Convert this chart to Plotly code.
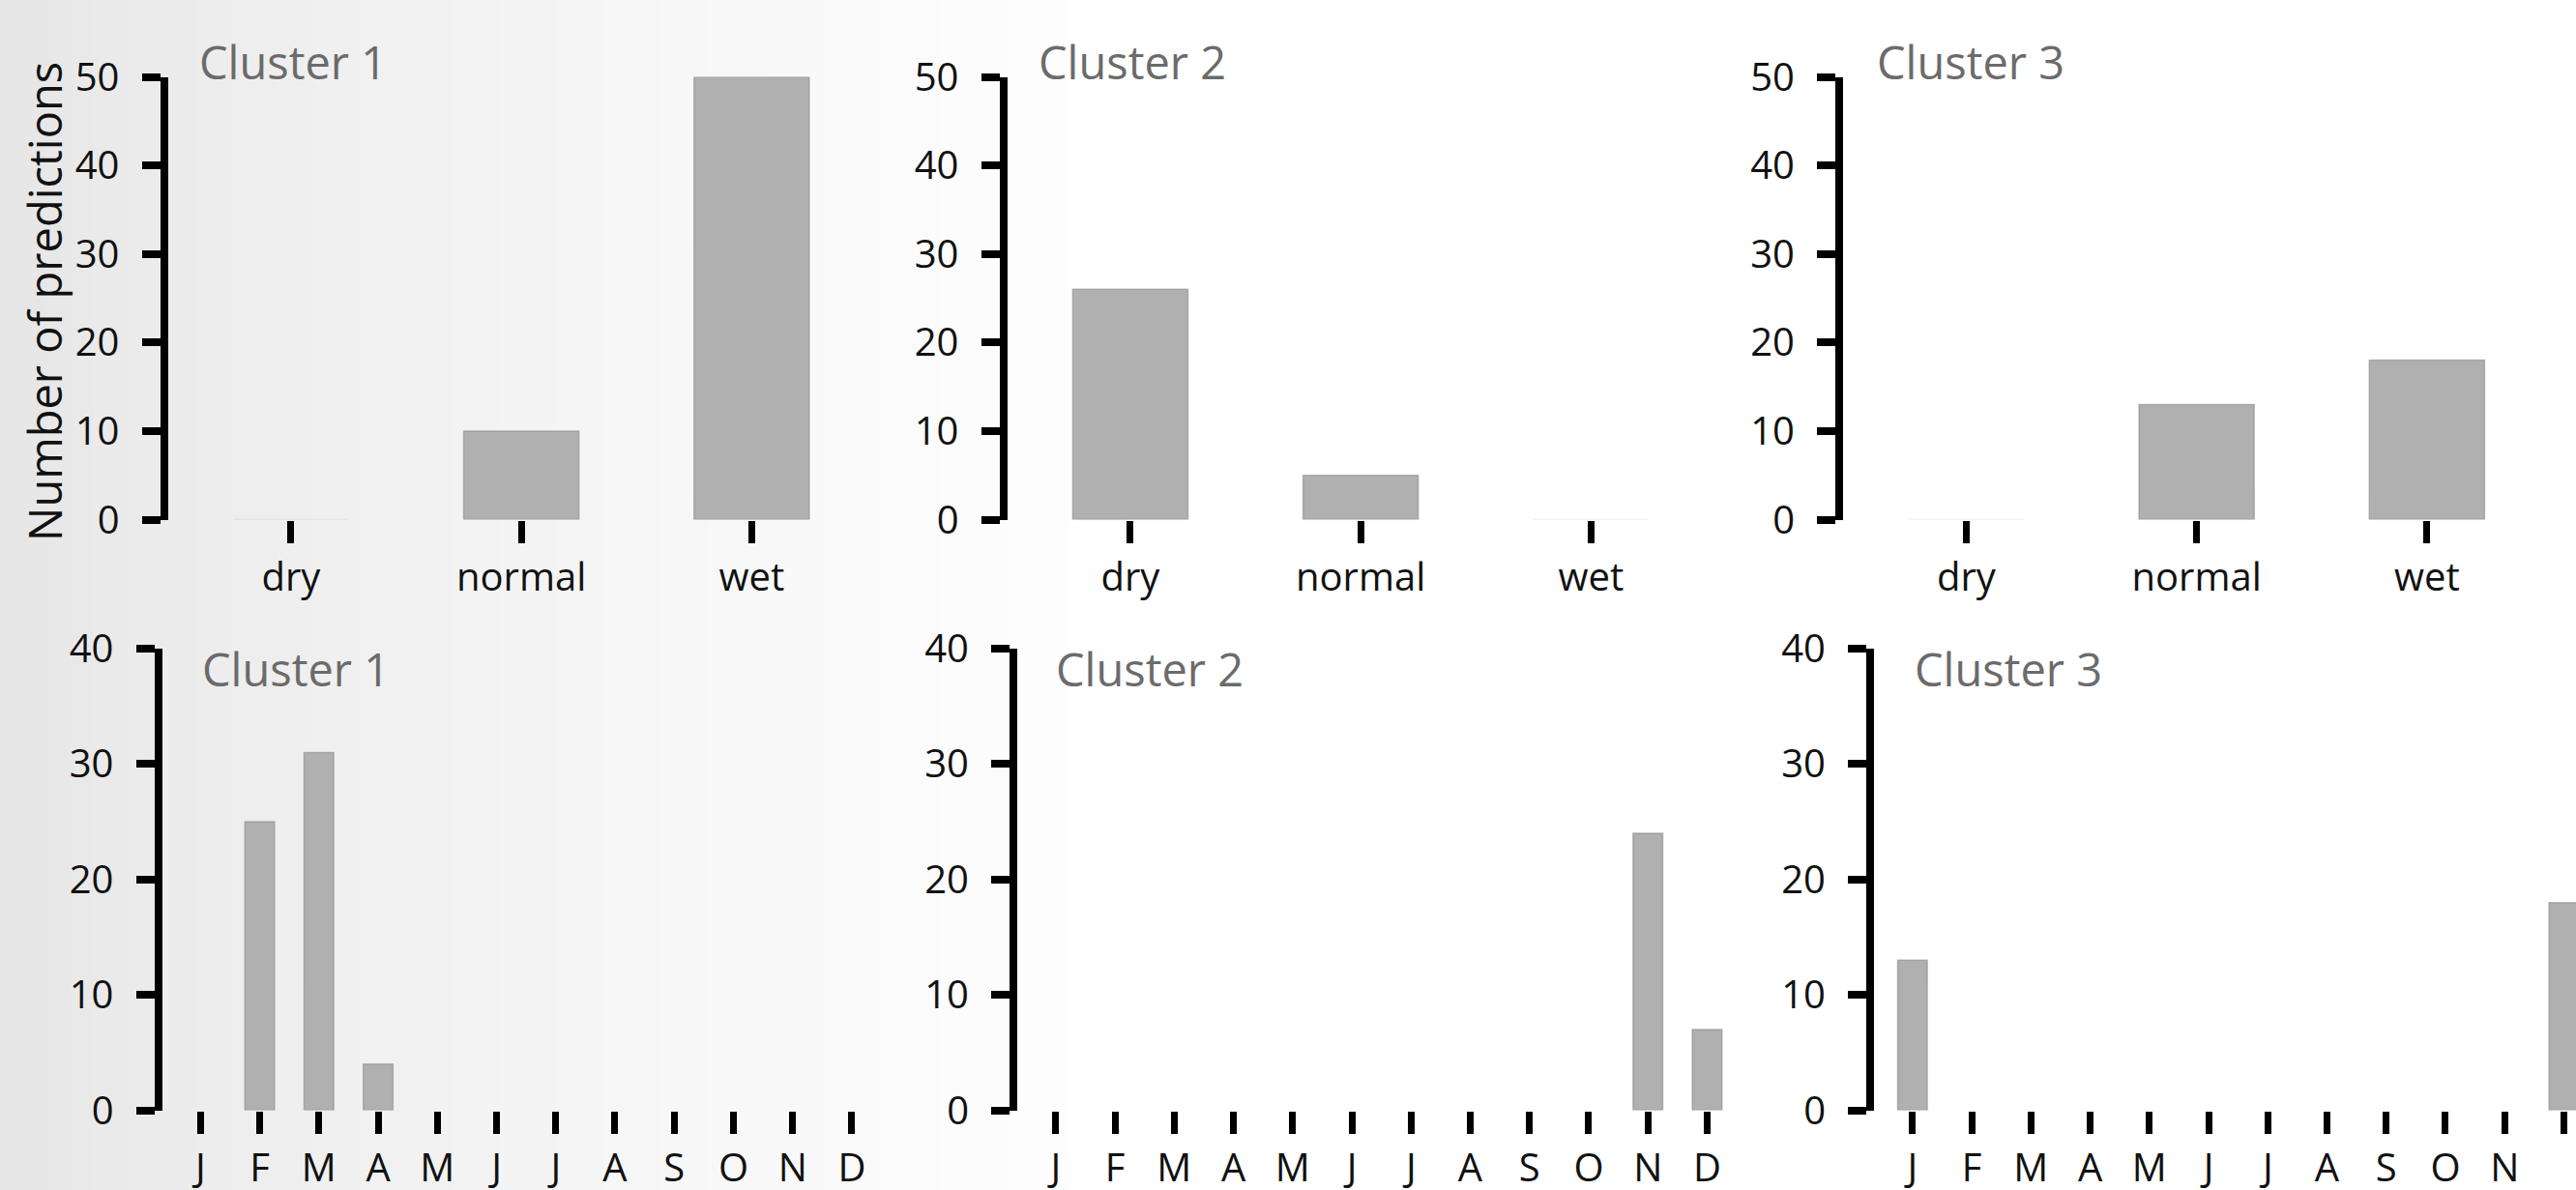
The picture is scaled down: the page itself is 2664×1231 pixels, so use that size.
import plotly.graph_objects as go

# ---------------- data ----------------
categories = ["dry", "normal", "wet"]
months = ["J", "F", "M", "A", "M", "J", "J", "A", "S", "O", "N", "D"]
cluster_names = ["Cluster 1", "Cluster 2", "Cluster 3"]
y_label = "Number of predictions"

state_cluster1 = [0, 10, 50]
state_cluster2 = [26, 5, 0]
state_cluster3 = [0, 13, 18]

month_cluster1 = [0, 25, 31, 4, 0, 0, 0, 0, 0, 0, 0, 0]
month_cluster2 = [0, 0, 0, 0, 0, 0, 0, 0, 0, 0, 24, 7]
month_cluster3 = [13, 0, 0, 0, 0, 0, 0, 0, 0, 0, 0, 18]

top_ticks = [0, 10, 20, 30, 40, 50]
bottom_ticks = [0, 10, 20, 30, 40]

# ---------------- layout helpers ----------------
W, H = 2664, 1231
FONT = "Open Sans"
BAR_COLOR = "#b0b0b0"
BAR_LINE = "rgba(140,140,140,0.6)"
ZERO_LINE_TOP = "rgba(150,150,150,0.25)"


def px_x(p):
    return p / W


def px_y(p):
    return 1 - p / H


fig = go.Figure()

top_series = [state_cluster1, state_cluster2, state_cluster3]
bottom_series = [month_cluster1, month_cluster2, month_cluster3]

top_starts = [173.5, 1041.5, 1906.0]
top_unit = 238.2
top_lo = -0.535
top_hi = 2.535

bot_starts = [167.5, 1052.0, 1938.0]
bot_unit = 61.24
bot_lo = -0.65
bot_hi = 11.65

top_y = [px_y(537.5), px_y(79.5)]
bot_y = [px_y(1148.5), px_y(671.0)]

tickfont = dict(family=FONT, size=40, color="#111111")

layout_axes = {}
for i in range(3):
    n = i + 1
    xa = "x" if n == 1 else f"x{n}"
    ya = "y" if n == 1 else f"y{n}"
    vals = top_series[i]
    fig.add_trace(go.Bar(
        x=categories, y=vals, xaxis=xa, yaxis=ya, width=0.5,
        marker=dict(color=BAR_COLOR,
                    line=dict(color=[BAR_LINE if v > 0 else ZERO_LINE_TOP for v in vals],
                              width=1.5)),
        showlegend=False, hoverinfo="x+y"))
    s = top_starts[i]
    e = s + (top_hi - top_lo) * top_unit
    layout_axes[f"xaxis{n}"] = dict(
        domain=[px_x(s), px_x(min(e, W))], anchor=ya, type="category",
        range=[top_lo, top_hi], showgrid=False, zeroline=False, showline=False,
        ticks="outside", ticklen=23, tickwidth=7, tickcolor="black",
        tickfont=tickfont, ticklabelstandoff=1, fixedrange=True,
        automargin=False)
    layout_axes[f"yaxis{n}"] = dict(
        domain=top_y, anchor=xa, range=[0, 50], tickvals=top_ticks,
        showgrid=False, zeroline=False, showline=True, linewidth=8,
        linecolor="black", ticks="outside", ticklen=19, tickwidth=8,
        tickcolor="black", tickfont=tickfont, ticklabelstandoff=15,
        fixedrange=True, automargin=False)

for i in range(3):
    n = i + 4
    xa = f"x{n}"
    ya = f"y{n}"
    vals = bottom_series[i]
    fig.add_trace(go.Bar(
        x=list(range(len(months))), y=vals, xaxis=xa, yaxis=ya,
        width=0.5,
        marker=dict(color=BAR_COLOR,
                    line=dict(color=[BAR_LINE if v > 0 else "rgba(0,0,0,0)" for v in vals],
                              width=1.5)),
        showlegend=False, hoverinfo="y"))
    s = bot_starts[i]
    e = s + (bot_hi - bot_lo) * bot_unit
    hi = bot_hi
    if e > W:
        hi = bot_lo + (W - s) / bot_unit
        e = W
    layout_axes[f"xaxis{n}"] = dict(
        domain=[px_x(s), px_x(e)], anchor=ya,
        range=[bot_lo, hi], tickvals=list(range(len(months))), ticktext=months,
        showgrid=False, zeroline=False, showline=False,
        ticks="outside", ticklen=23, tickwidth=7, tickcolor="black",
        tickfont=tickfont, ticklabelstandoff=1, fixedrange=True,
        automargin=False)
    layout_axes[f"yaxis{n}"] = dict(
        domain=bot_y, anchor=xa, range=[0, 40], tickvals=bottom_ticks,
        showgrid=False, zeroline=False, showline=True, linewidth=8,
        linecolor="black", ticks="outside", ticklen=19, tickwidth=8,
        tickcolor="black", tickfont=tickfont, ticklabelstandoff=15,
        fixedrange=True, automargin=False)

# ---------------- background gradient (decorative) ----------------
shapes = []
strip = 12
x = 0
while x < 1250:
    t = min(1.0, (x + strip / 2) / 1200)
    g = int(round(229 + 26 * (t ** 0.7)))
    shapes.append(dict(type="rect", xref="paper", yref="paper",
                       x0=px_x(x), x1=px_x(x + strip + 1), y0=0, y1=1,
                       fillcolor=f"rgb({g},{g},{g})", line=dict(width=0),
                       layer="below"))
    x += strip

# ---------------- annotations ----------------
annotations = []
title_top_x = [204, 1072, 1939]
title_bot_x = [207, 1090, 1978]
for i in range(3):
    annotations.append(dict(
        text=cluster_names[i], x=px_x(title_top_x[i]), y=px_y(30),
        xref="paper", yref="paper", xanchor="left", yanchor="top",
        showarrow=False, font=dict(family=FONT, size=47, color="#6b6b6b")))
    annotations.append(dict(
        text=cluster_names[i], x=px_x(title_bot_x[i]), y=px_y(658),
        xref="paper", yref="paper", xanchor="left", yanchor="top",
        showarrow=False, font=dict(family=FONT, size=47, color="#6b6b6b")))

annotations.append(dict(
    text=y_label, x=px_x(46), y=px_y(312), xref="paper", yref="paper",
    xanchor="center", yanchor="middle", textangle=-90, showarrow=False,
    font=dict(family=FONT, size=47, color="#111111")))

fig.update_layout(
    width=W, height=H,
    margin=dict(l=0, r=0, t=0, b=0, pad=0, autoexpand=False),
    paper_bgcolor="white", plot_bgcolor="rgba(0,0,0,0)",
    bargap=0.5, shapes=shapes, annotations=annotations,
    font=dict(family=FONT),
    **layout_axes)

fig.write_html(
    "out.html",
    config={"displayModeBar": False},
    post_script="document.body.style.margin='0';document.body.style.overflow='hidden';")
